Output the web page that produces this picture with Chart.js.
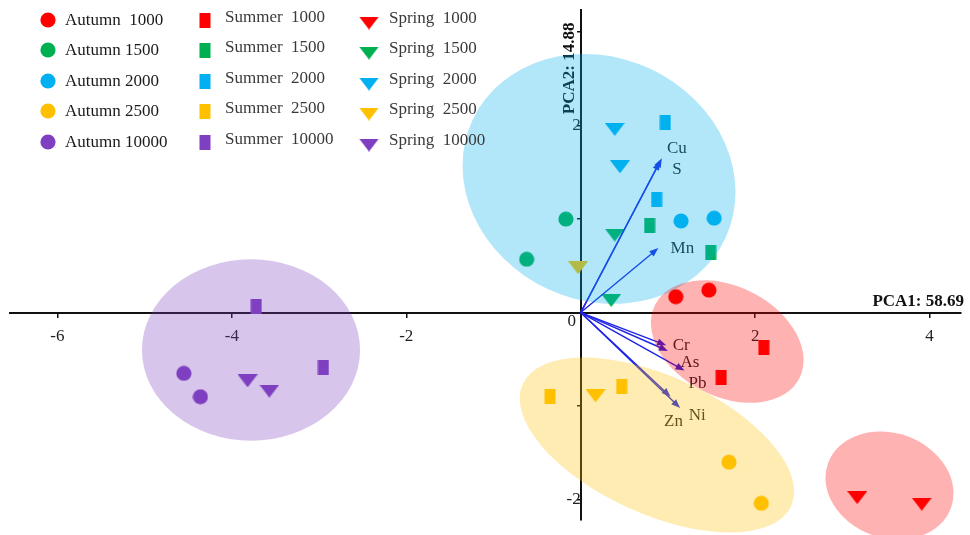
<!DOCTYPE html>
<html>
<head>
<meta charset="utf-8">
<script src="https://cdn.jsdelivr.net/npm/chart.js@4.4.0/dist/chart.umd.min.js"></script>
<style>
html, body { margin: 0; padding: 0; background: #fff; }
</style>
</head>
<body>
<canvas id="pca" width="970" height="535"></canvas>
<script>
// group names
const seasons = ['Autumn', 'Summer', 'Spring'];
const levels = ['1000', '1500', '2000', '2500', '10000'];
const legendLabels = [
  ['Autumn  1000', 'Autumn 1500', 'Autumn 2000', 'Autumn 2500', 'Autumn 10000'],
  ['Summer  1000', 'Summer  1500', 'Summer  2000', 'Summer  2500', 'Summer  10000'],
  ['Spring  1000', 'Spring  1500', 'Spring  2000', 'Spring  2500', 'Spring  10000']
];

// sample scores [PC1, PC2], two samples per level
const autumnScores = [
  [[1.09, 0.17], [1.47, 0.24]],
  [[-0.17, 1.00], [-0.62, 0.57]],
  [[1.15, 0.98], [1.53, 1.01]],
  [[1.70, -1.60], [2.07, -2.04]],
  [[-4.55, -0.65], [-4.36, -0.90]]
];
const summerScores = [
  [[2.10, -0.37], [1.61, -0.69]],
  [[0.79, 0.93], [1.49, 0.64]],
  [[0.97, 2.03], [0.87, 1.21]],
  [[-0.35, -0.90], [0.47, -0.79]],
  [[-3.72, 0.06], [-2.95, -0.59]]
];
const springScores = [
  [[3.17, -1.98], [3.91, -2.05]],
  [[0.39, 0.83], [0.35, 0.13]],
  [[0.39, 1.96], [0.45, 1.56]],
  [[-0.03, 0.48], [0.17, -0.89]],
  [[-3.82, -0.73], [-3.57, -0.84]]
];

// variable loadings
const loadingNames = ['Cu', 'S', 'Mn', 'Cr', 'As', 'Pb', 'Zn', 'Ni'];
const loadingPC1 = [0.93, 0.91, 0.89, 0.98, 1.00, 1.19, 1.03, 1.14];
const loadingPC2 = [1.65, 1.62, 0.69, -0.35, -0.41, -0.62, -0.90, -1.02];

// group ellipses: centre, half axes (data units), tilt in degrees
const ellipseCx = [0.21, 1.68, 3.54, 0.874, -3.78];
const ellipseCy = [1.43, -0.31, -1.85, -1.417, -0.40];
const ellipseRx = [1.60, 0.928, 0.75, 1.69, 1.25];
const ellipseRy = [1.30, 0.589, 0.56, 0.738, 0.97];
const ellipseTilt = [25, 27, 20, 24.4, 0];

// axes
const xTickValues = [-6, -4, -2, 0, 2, 4];
const yTickValues = [-2, -1, 0, 1, 2, 3];
const yTickLabels = [-2, 2];
const xTitle = 'PCA1: 58.69';
const yTitle = 'PCA2: 14.88';

const levelColors = ['#ff0000', '#00b050', '#00b0f0', '#ffc000', '#7e3fc0'];
const ellipseColors = ['rgba(0,176,240,0.30)', 'rgba(255,0,0,0.30)', 'rgba(255,0,0,0.30)',
                       'rgba(255,192,0,0.30)', 'rgba(126,63,192,0.30)'];
const serif = '"Liberation Serif", "Times New Roman", serif';

function makeMarker(shape, color) {
  const c = document.createElement('canvas');
  const g = c.getContext('2d');
  if (shape == 'circle') {
    c.width = 16; c.height = 16;
    g.fillStyle = color;
    g.beginPath(); g.arc(8, 8, 7.6, 0, Math.PI * 2); g.fill();
  } else if (shape == 'square') {
    c.width = 12; c.height = 15;
    g.fillStyle = color;
    g.fillRect(0.5, 0, 11, 15);
  } else {
    c.width = 20; c.height = 13;
    g.fillStyle = color;
    g.beginPath(); g.moveTo(0, 0); g.lineTo(20, 0); g.lineTo(10, 13); g.closePath(); g.fill();
  }
  return c;
}

const shapes = ['circle', 'square', 'triangle'];
const markers = shapes.map(s => levelColors.map(col => makeMarker(s, col)));
const allScores = [autumnScores, summerScores, springScores];

const datasets = [];
seasons.forEach((season, s) => {
  levels.forEach((lvl, i) => {
    datasets.push({
      label: season + ' ' + lvl,
      data: allScores[s][i].map(p => ({ x: p[0], y: p[1] })),
      pointStyle: markers[s][i],
      pointRadius: 8,
      backgroundColor: levelColors[i],
      borderColor: levelColors[i]
    });
  });
});

const overlay = {
  id: 'overlay',
  afterDatasetsDraw(chart) {
    const ctx = chart.ctx;
    const xs = chart.scales.x, ys = chart.scales.y;
    const area = chart.chartArea;
    const ox = xs.getPixelForValue(0), oy = ys.getPixelForValue(0);
    ctx.save();

    // loading arrows
    ctx.strokeStyle = '#1f24e6';
    ctx.fillStyle = '#1f24e6';
    ctx.lineWidth = 1.4;
    loadingNames.forEach((n, i) => {
      const tx = xs.getPixelForValue(loadingPC1[i]);
      const ty = ys.getPixelForValue(loadingPC2[i]);
      const a = Math.atan2(ty - oy, tx - ox);
      const ca = Math.cos(a), sa = Math.sin(a);
      ctx.beginPath();
      ctx.moveTo(ox, oy);
      ctx.lineTo(tx - 6 * ca, ty - 6 * sa);
      ctx.stroke();
      ctx.beginPath();
      ctx.moveTo(tx, ty);
      ctx.lineTo(tx - 9 * ca + 3.5 * sa, ty - 9 * sa - 3.5 * ca);
      ctx.lineTo(tx - 9 * ca - 3.5 * sa, ty - 9 * sa + 3.5 * ca);
      ctx.closePath();
      ctx.fill();
    });

    // loading names
    const labelOffsets = [[15, -10], [17, 8], [24, 0], [15, 0], [22, 12], [13, 13], [3, 25], [17, 8]];
    ctx.fillStyle = '#222';
    ctx.font = '17px ' + serif;
    ctx.textAlign = 'center';
    ctx.textBaseline = 'middle';
    loadingNames.forEach((n, i) => {
      const tx = xs.getPixelForValue(loadingPC1[i]);
      const ty = ys.getPixelForValue(loadingPC2[i]);
      ctx.fillText(n, tx + labelOffsets[i][0], ty + labelOffsets[i][1]);
    });

    // origin label
    ctx.fillText('0', ox - 9, oy + 9);

    // axis titles
    ctx.font = 'bold 17px ' + serif;
    ctx.fillStyle = '#111';
    ctx.textAlign = 'right';
    ctx.textBaseline = 'alphabetic';
    ctx.fillText(xTitle, area.right + 3, oy - 7);
    ctx.save();
    ctx.translate(ox - 7, area.top + 104);
    ctx.rotate(-Math.PI / 2);
    ctx.textAlign = 'left';
    ctx.fillText(yTitle, 0, 0);
    ctx.restore();

    // group ellipses on top
    ellipseCx.forEach((cx, i) => {
      const px = xs.getPixelForValue(cx);
      const py = ys.getPixelForValue(ellipseCy[i]);
      const rx = Math.abs(xs.getPixelForValue(cx + ellipseRx[i]) - px);
      const ry = Math.abs(ys.getPixelForValue(ellipseCy[i] + ellipseRy[i]) - py);
      ctx.fillStyle = ellipseColors[i];
      ctx.beginPath();
      ctx.ellipse(px, py, rx, ry, ellipseTilt[i] * Math.PI / 180, 0, Math.PI * 2);
      ctx.fill();
    });
    ctx.restore();
  },
  afterDraw(chart) {
    const ctx = chart.ctx;
    const colX = [48, 205, 369];
    const textX = [65, 225, 389];
    const rowY = [20, 50, 81, 111, 142];
    const textDy = [1, -2, -1];
    const textCol = ['#1a1a1a', '#3a3a3a', '#3a3a3a'];
    ctx.save();
    ctx.font = '17px ' + serif;
    ctx.textBaseline = 'middle';
    ctx.textAlign = 'left';
    seasons.forEach((season, s) => {
      levels.forEach((lvl, i) => {
        const m = markers[s][i];
        const dy = s == 2 ? 3 : 0;
        ctx.drawImage(m, colX[s] - m.width / 2, rowY[i] + dy - m.height / 2);
        ctx.fillStyle = textCol[s];
        ctx.fillText(legendLabels[s][i], textX[s], rowY[i] + textDy[s]);
      });
    });
    ctx.restore();
  }
};

new Chart(document.getElementById('pca'), {
  type: 'scatter',
  data: { datasets: datasets },
  options: {
    responsive: false,
    animation: false,
    devicePixelRatio: 1,
    events: [],
    layout: { padding: { left: 10, right: 6, top: 10, bottom: 15 } },
    plugins: { legend: { display: false }, tooltip: { enabled: false } },
    scales: {
      x: {
        type: 'linear',
        position: { y: 0 },
        min: -6.543,
        max: 4.36,
        afterBuildTicks: scale => { scale.ticks = xTickValues.map(v => ({ value: v })); },
        grid: { display: true, drawOnChartArea: false, drawTicks: true, tickLength: 4, color: '#111', lineWidth: 1.5 },
        border: { display: true, color: '#111', width: 2 },
        ticks: {
          autoSkip: false, maxRotation: 0, padding: 10, color: '#222',
          font: { family: serif, size: 17 },
          callback: v => (v == 0 ? '' : String(v))
        }
      },
      y: {
        type: 'linear',
        position: { x: 0 },
        min: -2.219,
        max: 3.235,
        afterBuildTicks: scale => { scale.ticks = yTickValues.map(v => ({ value: v })); },
        grid: { display: true, drawOnChartArea: false, drawTicks: true, tickLength: 3, color: '#111', lineWidth: 1.5 },
        border: { display: true, color: '#111', width: 2 },
        ticks: {
          autoSkip: false, padding: 0, color: '#222',
          font: { family: serif, size: 17 },
          callback: v => (yTickLabels.includes(v) ? String(v) : '')
        }
      }
    }
  },
  plugins: [overlay]
});
</script>
</body>
</html>
